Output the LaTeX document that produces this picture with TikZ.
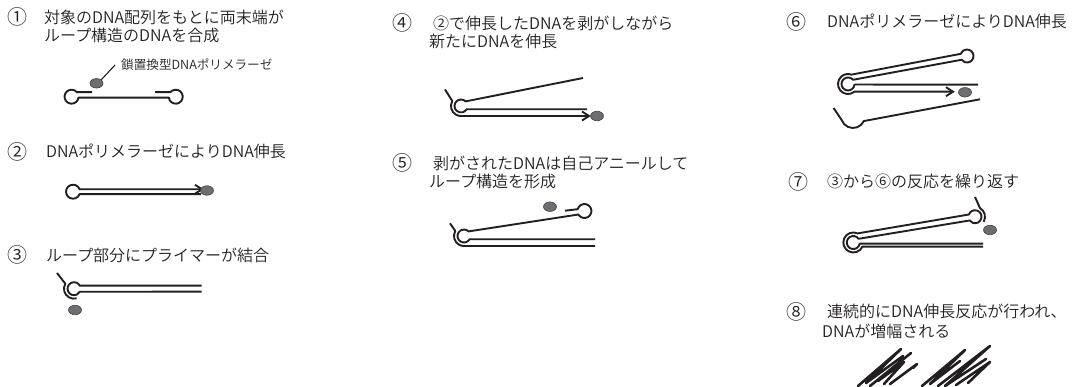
\documentclass[tikz,border=0pt]{standalone}
\usepackage{fontspec}
\setmainfont{Noto Sans CJK JP}[UprightFont=* DemiLight]
\usetikzlibrary{shapes.geometric}
\definecolor{ink}{HTML}{231F20}
\definecolor{polyfill}{HTML}{6D6E71}

\tikzset{
  strand/.style={draw=ink,line width=1.9pt,line cap=butt,line join=round},
  leader/.style={draw=ink,line width=1.1pt},
  enzyme/.style={ellipse,draw=ink!85,fill=polyfill,line width=0.6pt,
    minimum width=13pt,minimum height=9.5pt,inner sep=0pt},
  caption/.style={anchor=west,inner sep=0pt,text=ink,font=\fontsize{16}{18}\selectfont},
  smalllabel/.style={anchor=west,inner sep=0pt,text=ink,font=\fontsize{12.6}{14}\selectfont},
  num/.style={inner sep=0pt,text=ink,font=\fontsize{20}{22}\selectfont},
  scribble/.style={draw=ink,line width=2.6pt,line cap=round,line join=round},
  chev/.pic={\draw[strand,line join=miter] (-7,4.5) -- (0,0) -- (-7,-4.5);}
}

\begin{document}
\begin{tikzpicture}[x=1pt,y=1pt]
\useasboundingbox (0,0) rectangle (1074,-387);

% ---------- (1) dumbbell template ----------
\node[num] (n1) at (17,-17) {①};
\node[caption] (t1a) at (44,-17) {対象のDNA配列をもとに両末端が};
\node[caption] (t1b) at (44,-35.5) {ループ構造のDNAを合成};
\node[smalllabel] (lbl) at (121,-64.3) {鎖置換型DNAポリメラーゼ};
\node[enzyme] (pol1) at (96.5,-83.3) {};
\coordinate (lead) at (115,-65);
\draw[leader] (pol1.north east) -- (lead);
\draw[strand] (92,-92.2) -- (76.9,-92.2) arc[start angle=40,end angle=352,radius=7]
  -- (168.8,-97.67) arc[start angle=188,end angle=500,radius=7] -- (155,-92.2);

% ---------- (2) extension from the loop ----------
\node[num] (n2) at (17,-151.7) {②};
\node[caption] (t2) at (46,-151.7) {DNAポリメラーゼによりDNA伸長};
\draw[strand] (201,-189.3) -- (79.6,-189.3) arc[start angle=20,end angle=340,radius=7]
  -- (201,-194.1);
\pic at (202,-189.3) {chev};
\node[enzyme] (pol2) at (207,-190.5) {};

% ---------- (3) primer binding to the loop ----------
\node[num] (n3) at (17,-255) {③};
\node[caption] (t3) at (46,-255) {ループ部分にプライマーが結合};
\draw[strand] (201.7,-285.7) -- (79.8,-285.7) arc[start angle=27.5,end angle=332.5,radius=6.5]
  -- (201.7,-291.7);
\draw[strand] (57,-273) -- (65.3,-283.7) arc[start angle=150,end angle=285,radius=10];
\node[enzyme] (pol3) at (75,-310) {};

% ---------- (4) strand displacement ----------
\node[num] (n4) at (402,-23.3) {④};
\node[caption] (t4a) at (433,-23.3) {②で伸長したDNAを剥がしながら};
\node[caption] (t4b) at (429,-41.7) {新たにDNAを伸長};
\draw[strand] (583,-78) -- (465.6,-101.4) arc[start angle=45,end angle=330,radius=6.5]
  -- (587,-109.25);
\draw[strand] (445,-89.5) -- (452.3,-101) arc[start angle=150,end angle=270,radius=10]
  -- (589,-116);
\pic at (589,-116) {chev};
\node[enzyme] (pol4) at (597,-116) {};

% ---------- (5) self-annealing of the released strand ----------
\node[num] (n5) at (402,-163.3) {⑤};
\node[caption] (t5a) at (433,-163.3) {剥がされたDNAは自己アニールして};
\node[caption] (t5b) at (429,-181.7) {ループ構造を形成};
\draw[strand] (595,-239.25) -- (469.6,-239.25) arc[start angle=-30,end angle=-315,radius=6.5]
  -- (578.4,-214.5) arc[start angle=210,end angle=525,radius=7] -- (565,-210.7);
\draw[strand] (450,-223.3) -- (455.3,-231) arc[start angle=150,end angle=270,radius=10]
  -- (595,-246);
\node[enzyme] (pol5) at (550,-206.7) {};

% ---------- (6) extension on the new loop ----------
\node[num] (n6) at (796,-21.7) {⑥};
\node[caption] (t6) at (827,-21.7) {DNAポリメラーゼによりDNA伸長};
\draw[strand] (953,-91.7) -- (854.4,-91.7) arc[start angle=-50,end angle=-290,radius=10]
  -- (960.9,-53.8) arc[start angle=160,end angle=-145,radius=6.5]
  -- (853,-79.8) arc[start angle=40,end angle=355,radius=6.5] -- (978,-84.6);
\pic at (953,-91.7) {chev};
\node[enzyme] (pol6) at (965,-92.3) {};
\draw[strand] (833.5,-108) .. controls (837,-113) and (839,-116) .. (841.7,-120.1)
  arc[start angle=200,end angle=335,radius=12] -- (980,-99.3);

% ---------- (7) cycle repeats ----------
\node[num] (n7) at (798,-181.7) {⑦};
\node[caption] (t7) at (827,-181.7) {③から⑥の反応を繰り返す};
\draw[strand] (983,-246.7) -- (862.4,-246.7) arc[start angle=-25,end angle=-295,radius=10]
  -- (968.9,-214.5) arc[start angle=160,end angle=-145,radius=6.5]
  -- (858.6,-238.8) arc[start angle=35,end angle=350,radius=6.5] -- (983,-243.6);
\draw[strand] (975,-197) -- (980,-208.1) arc[start angle=60,end angle=-30,radius=10];
\node[enzyme] (pol7) at (990,-230) {};

% ---------- (8) continuous amplification ----------
\node[num] (n8) at (796,-311.7) {⑧};
\node[caption] (t8a) at (827,-311.7) {連続的にDNA伸長反応が行われ、};
\node[caption] (t8b) at (822,-331.7) {DNAが増幅される};
\draw[scribble] (858,-386) -- (901,-349) -- (866,-383) -- (903,-356)
  (870,-386) -- (911,-353) (878,-381) -- (904,-362) -- (884,-384)
  (890,-384) -- (917,-364) -- (913,-368)
  (922,-386) -- (965,-350) -- (930,-384) -- (960,-361)
  (938,-386) -- (990,-346) -- (945,-386) -- (986,-359)
  (956,-385) -- (990,-362) -- (968,-383);
\end{tikzpicture}
\end{document}
